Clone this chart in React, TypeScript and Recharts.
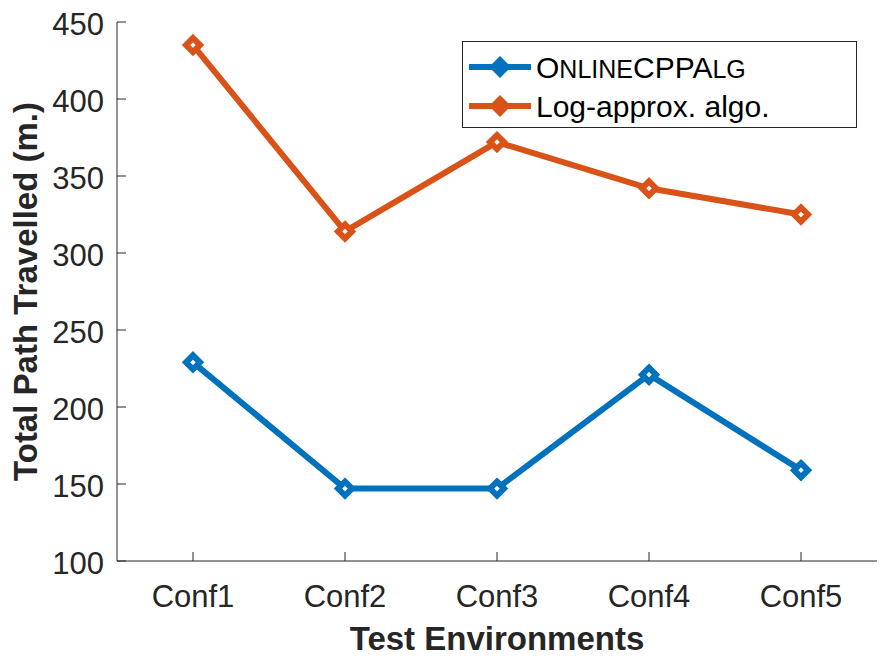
import { LineChart, Line, XAxis, YAxis } from 'recharts';

// Path length per test environment, in metres
const configs = ['Conf1', 'Conf2', 'Conf3', 'Conf4', 'Conf5'];
const onlineCpp = [229, 147, 147, 221, 159];
const logApprox = [435, 314, 372, 342, 325];
const yTicks = [100, 150, 200, 250, 300, 350, 400, 450];

const data = configs.map((conf, i) => ({
  conf,
  online: onlineCpp[i],
  logApprox: logApprox[i],
}));

const BLUE = '#0072BD';
const ORANGE = '#D95319';
const AXIS = '#262626';
const FONT = '"Liberation Sans", Arial, Helvetica, sans-serif';

const W = 880;
const H = 661;
const PLOT_LEFT = 117;
const PLOT_TOP = 22;
const PLOT_RIGHT = 877;
const PLOT_BOTTOM = 561;
const TICK_LEN = 9;
const X_PAD = 76;
const LINE_W = 6;

function Diamond({ cx, cy, color, r = 7 }: { cx?: number; cy?: number; color: string; r?: number }) {
  if (cx == null || cy == null) return null;
  const pts = `${cx},${cy - r} ${cx + r},${cy} ${cx},${cy + r} ${cx - r},${cy}`;
  return <polygon points={pts} fill="#fff" stroke={color} strokeWidth={6} strokeLinejoin="miter" />;
}

function BottomTick({ x, payload }: any) {
  return (
    <g>
      <line x1={x} x2={x} y1={PLOT_BOTTOM} y2={PLOT_BOTTOM - TICK_LEN} stroke={AXIS} strokeWidth={1} />
      <text x={x} y={607} textAnchor="middle" fontSize={31} fontFamily={FONT} fill={AXIS}>
        {payload.value}
      </text>
    </g>
  );
}

function TopTick({ x }: any) {
  return <line x1={x} x2={x} y1={PLOT_TOP} y2={PLOT_TOP + TICK_LEN} stroke={AXIS} strokeWidth={1} />;
}

function LeftTick({ y, payload }: any) {
  return (
    <g>
      <line x1={PLOT_LEFT} x2={PLOT_LEFT + TICK_LEN} y1={y} y2={y} stroke={AXIS} strokeWidth={1} />
      <text x={104} y={y + 13} textAnchor="end" fontSize={31} fontFamily={FONT} fill={AXIS}>
        {payload.value}
      </text>
    </g>
  );
}

function RightTick({ y }: any) {
  return <line x1={PLOT_RIGHT} x2={PLOT_RIGHT - TICK_LEN} y1={y} y2={y} stroke={AXIS} strokeWidth={1} />;
}

function LegendBox() {
  const rows = [
    { color: BLUE, label: 'online' },
    { color: ORANGE, label: 'Log-approx. algo.' },
  ];
  return (
    <svg
      width={396}
      height={88}
      style={{ position: 'absolute', left: 462, top: 41, display: 'block', overflow: 'visible' }}
    >
      <rect x={0.5} y={0.5} width={394} height={86} fill="#fff" stroke={AXIS} strokeWidth={1} />
      {rows.map((r, i) => {
        const cy = 26 + i * 39;
        return (
          <g key={i}>
            <line x1={7} x2={69} y1={cy} y2={cy} stroke={r.color} strokeWidth={LINE_W} />
            <polygon points={`38,${cy - 11} 49,${cy} 38,${cy + 11} 27,${cy}`} fill={r.color} />
            <text x={74} y={cy + 11} fontSize={30} fontFamily={FONT} fill="#000">
              {r.label === 'online' ? (
                <>
                  O<tspan fontSize={25}>NLINE</tspan>CPPA<tspan fontSize={25}>LG</tspan>
                </>
              ) : (
                r.label
              )}
            </text>
          </g>
        );
      })}
    </svg>
  );
}

export default function App() {
  return (
    <div style={{ width: W, height: H, background: '#fff', position: 'relative' }}>
      <style>{`body { margin: 0; }`}</style>
      <LineChart
        width={W}
        height={H}
        data={data}
        margin={{ top: PLOT_TOP, right: W - PLOT_RIGHT, bottom: 0, left: 0 }}
      >
        <XAxis
          dataKey="conf"
          height={H - PLOT_BOTTOM}
          padding={{ left: X_PAD, right: X_PAD }}
          axisLine={{ stroke: AXIS, strokeWidth: 1 }}
          tickLine={false}
          tickSize={0}
          tick={<BottomTick />}
          interval={0}
          label={{
            value: 'Test Environments',
            position: 'insideBottom',
            offset: 11,
            style: { fontSize: 33, fontWeight: 'bold', fontFamily: FONT, fill: AXIS },
          }}
        />
        <XAxis
          xAxisId="top"
          dataKey="conf"
          orientation="top"
          height={0}
          padding={{ left: X_PAD, right: X_PAD }}
          axisLine={{ stroke: AXIS, strokeWidth: 1 }}
          tickLine={false}
          tickSize={0}
          tick={<TopTick />}
          interval={0}
        />
        <YAxis
          domain={[100, 450]}
          ticks={yTicks}
          width={PLOT_LEFT}
          axisLine={{ stroke: AXIS, strokeWidth: 1 }}
          tickLine={false}
          tickSize={0}
          tick={<LeftTick />}
          interval={0}
          label={{
            value: 'Total Path Travelled (m.)',
            angle: -90,
            position: 'insideLeft',
            offset: 25,
            style: {
              fontSize: 33,
              fontWeight: 'bold',
              fontFamily: FONT,
              fill: AXIS,
              textAnchor: 'middle',
            },
          }}
        />
        <YAxis
          yAxisId="right"
          orientation="right"
          domain={[100, 450]}
          ticks={yTicks}
          width={0}
          axisLine={{ stroke: AXIS, strokeWidth: 1 }}
          tickLine={false}
          tickSize={0}
          tick={<RightTick />}
          interval={0}
        />
        <Line
          dataKey="online"
          name="OnlineCPPAlg"
          stroke={BLUE}
          strokeWidth={LINE_W}
          dot={(p: any) => <Diamond key={`b${p.index}`} cx={p.cx} cy={p.cy} color={BLUE} />}
          activeDot={false}
          isAnimationActive={false}
        />
        <Line
          dataKey="logApprox"
          name="Log-approx. algo."
          stroke={ORANGE}
          strokeWidth={LINE_W}
          dot={(p: any) => <Diamond key={`o${p.index}`} cx={p.cx} cy={p.cy} color={ORANGE} />}
          activeDot={false}
          isAnimationActive={false}
        />
      </LineChart>
      <LegendBox />
    </div>
  );
}
